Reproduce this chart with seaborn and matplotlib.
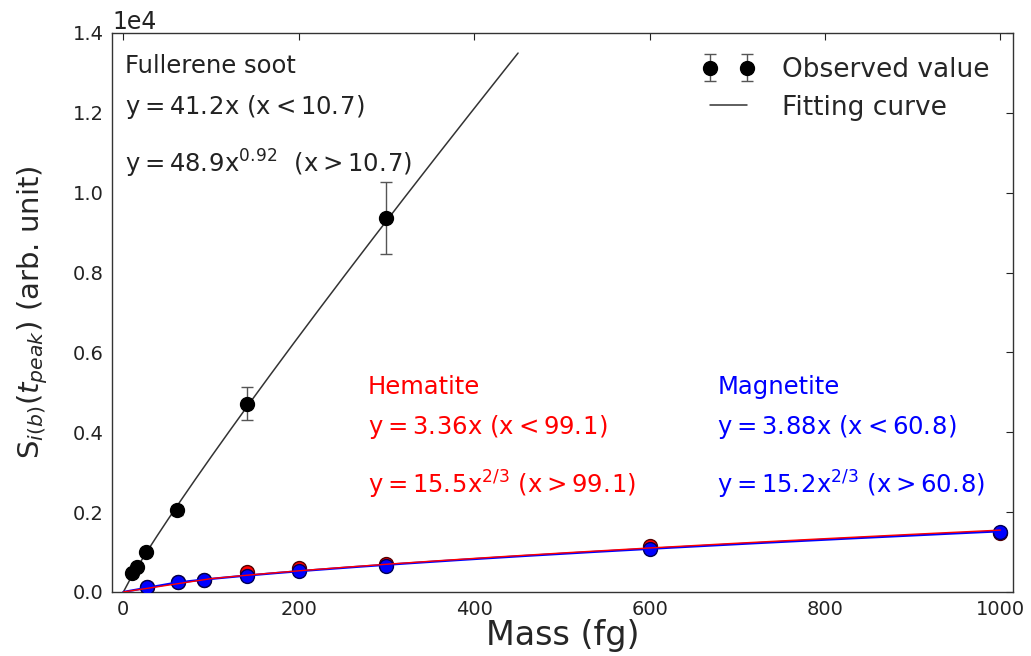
import numpy as np
import pandas as pd
import matplotlib
matplotlib.use("Agg")
import matplotlib.pyplot as plt
import seaborn as sns

# ---------------- data ----------------
soot_mass = [10, 16, 26, 61, 141, 300]
soot_signal = [470, 630, 1000, 2050, 4720, 9360]
soot_err = [40, 50, 70, 110, 420, 900]

hem_mass = [27, 62, 92, 141, 200, 300, 600, 1000]
hem_signal = [115, 250, 310, 510, 600, 690, 1160, 1470]
hem_err = [10, 20, 25, 40, 50, 100, 60, 60]

mag_mass = [27, 62, 92, 141, 200, 300, 600, 1000]
mag_signal = [133, 243, 300, 392, 526, 660, 1070, 1500]
mag_err = [10, 20, 25, 30, 40, 60, 60, 60]

# fitted curve parameters shown on the chart: (a_lin, x_break, a_pow, exponent, x_max)
soot_fit = [41.2, 10.7, 48.9, 0.92, 450]
hem_fit = [3.36, 99.1, 15.5, 2 / 3, 1000]
mag_fit = [3.88, 60.8, 15.2, 2 / 3, 1000]

x_ticks = [0, 200, 400, 600, 800, 1000]
y_ticks = [0, 2000, 4000, 6000, 8000, 10000, 12000, 14000]


def fit_curve(p, name):
    a, xb, b, e, xm = p
    x = np.linspace(0, xm, 400)
    y = np.where(x < xb, a * x, b * np.power(x, e))
    return pd.DataFrame({"mass": x, "signal": y, "series": name})


sns.set_style("white")
plt.rcParams["font.family"] = ["DejaVu Sans"]
plt.rcParams["mathtext.default"] = "regular"
plt.rcParams["xtick.direction"] = "in"
plt.rcParams["ytick.direction"] = "in"

fig = plt.figure(figsize=(10.31, 6.56), dpi=100)
ax = fig.add_axes([0.1086, 0.0976, 0.8737, 0.8521])

# fitted curves
sns.lineplot(data=fit_curve(soot_fit, "soot"), x="mass", y="signal", ax=ax,
             color="#333333", lw=1.1, label="Fitting curve", zorder=2)
# points with error bars
ax.errorbar(hem_mass, hem_signal, yerr=hem_err, fmt="o", color="red", ms=10,
            mec="#550000", ecolor="red", capsize=4, elinewidth=1, zorder=3)
ax.errorbar(mag_mass, mag_signal, yerr=mag_err, fmt="o", color="blue", ms=10,
            mec="#000055", ecolor="blue", capsize=4, elinewidth=1, zorder=4)
sns.lineplot(data=fit_curve(mag_fit, "mag"), x="mass", y="signal", ax=ax,
             color="blue", lw=1.6, legend=False, zorder=5)
sns.lineplot(data=fit_curve(hem_fit, "hem"), x="mass", y="signal", ax=ax,
             color="red", lw=1.0, legend=False, zorder=5)
ax.errorbar(soot_mass, soot_signal, yerr=soot_err, fmt="o", color="black",
            ms=10, ecolor="#555555", capsize=4, elinewidth=1,
            label="Observed value", zorder=6)

ax.set_xlim(-13, 1014)
ax.set_ylim(0, 14000)
ax.set_xticks(x_ticks)
ax.set_yticks(y_ticks)
ax.ticklabel_format(axis="y", style="sci", scilimits=(0, 0))
ax.yaxis.get_offset_text().set_fontsize(17)
ax.tick_params(axis="both", which="both", direction="in", top=True, right=True,
               length=5, width=0.8, labelsize=14, colors="#222222", pad=6)
for s in ax.spines.values():
    s.set_color("#333333")
    s.set_linewidth(1.0)

ax.set_xlabel("Mass (fg)", fontsize=24, labelpad=0)
ax.set_ylabel(r"$S_{\mathit{i(b)}}(\mathit{t}_{\mathit{peak}})$ (arb. unit)",
              fontsize=21, labelpad=16)

# annotations
fs = 17.5
sp = r"\hspace{-0.15}"
ax.text(1.5, 13000, "Fullerene soot", fontsize=fs, color="#222222")
ax.text(1.5, 11970, r"$y=41." + sp + r"2x\ (x<10." + sp + r"7)$", fontsize=fs, color="#222222")
ax.text(1.5, 10500, r"$y=48." + sp + r"9x^{0." + sp + r"92}\ \ (x>10." + sp + r"7)$",
        fontsize=fs, color="#222222")

ax.text(279, 4960, "Hematite", fontsize=fs, color="red")
ax.text(279, 3950, r"$y=3." + sp + r"36x\ (x<99." + sp + r"1)$", fontsize=fs, color="red")
ax.text(279, 2470, r"$y=15." + sp + r"5x^{2/3}\ (x>99." + sp + r"1)$", fontsize=fs, color="red")

ax.text(677, 4960, "Magnetite", fontsize=fs, color="blue")
ax.text(677, 3950, r"$y=3." + sp + r"88x\ (x<60." + sp + r"8)$", fontsize=fs, color="blue")
ax.text(677, 2470, r"$y=15." + sp + r"2x^{2/3}\ (x>60." + sp + r"8)$", fontsize=fs, color="blue")

handles, labels = ax.get_legend_handles_labels()
order = [labels.index("Observed value"), labels.index("Fitting curve")]
ax.legend([handles[i] for i in order], [labels[i] for i in order],
          loc="upper right", frameon=False, numpoints=2, fontsize=19,
          handlelength=2.0, handletextpad=1.0, labelspacing=0.45,
          borderaxespad=0.5)

fig.savefig("out.png", dpi=100)
